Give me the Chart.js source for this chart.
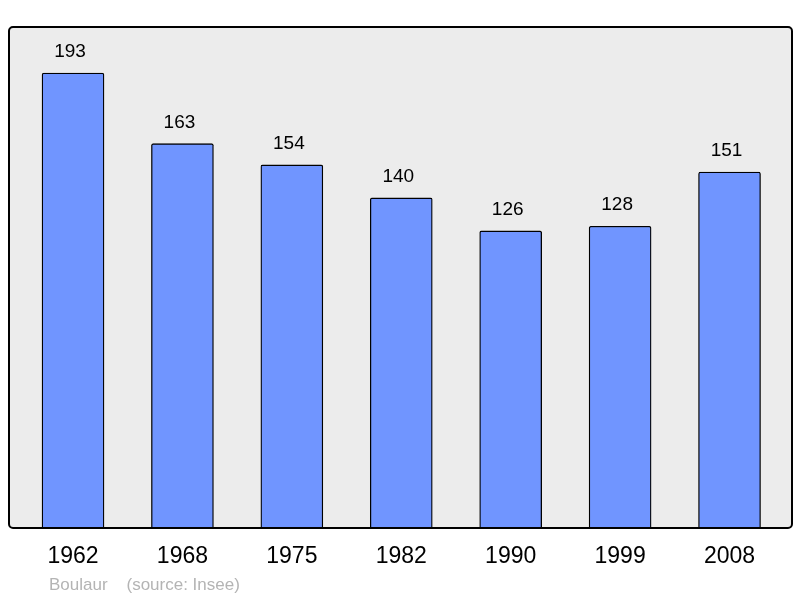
<!DOCTYPE html>
<html lang="en">
<head>
  <meta charset="UTF-8">
  <title>Boulaur population</title>
  <script src="https://cdn.jsdelivr.net/npm/chart.js"></script>
  <style>
    html, body { margin: 0; padding: 0; background: #fff; }
    #wrap { width: 800px; height: 598px; }
  </style>
</head>
<body>
  <div id="wrap"><canvas id="popChart" width="800" height="598"></canvas></div>

  <script>
    // data
    const years = ['1962', '1968', '1975', '1982', '1990', '1999', '2008'];
    const population = [193, 163, 154, 140, 126, 128, 151];
    const sourceText = 'Boulaur    (source: Insee)';

    const font = '"Liberation Sans", Arial, sans-serif';

    // grey box with black frame behind the bars, value labels and year labels
    const framePlugin = {
      id: 'frame',
      beforeDatasetsDraw(chart) {
        const { ctx, chartArea: a } = chart;
        ctx.save();
        ctx.fillStyle = '#ececec';
        ctx.beginPath();
        ctx.roundRect(a.left, a.top, a.right - a.left, a.bottom - a.top, 4);
        ctx.fill();
        ctx.restore();
      },
      afterDatasetsDraw(chart) {
        const { ctx, chartArea: a } = chart;
        const x = chart.scales.x, y = chart.scales.y;
        ctx.save();
        ctx.strokeStyle = '#000';
        ctx.lineWidth = 2;
        ctx.beginPath();
        ctx.roundRect(a.left, a.top, a.right - a.left, a.bottom - a.top, 4);
        ctx.stroke();

        ctx.fillStyle = '#000';
        ctx.textAlign = 'center';
        ctx.textBaseline = 'middle';
        ctx.font = '19px ' + font;
        population.forEach((v, i) => {
          ctx.fillText(String(v), x.getPixelForValue(i) - 3, y.getPixelForValue(v) - 21);
        });

        ctx.font = '23px ' + font;
        years.forEach((yr, i) => {
          ctx.fillText(yr, x.getPixelForValue(i), 557);
        });

        ctx.fillStyle = '#b4b4b4';
        ctx.textAlign = 'left';
        ctx.font = '17px ' + font;
        ctx.fillText(sourceText, 49, 585);
        ctx.restore();
      }
    };

    new Chart(document.getElementById('popChart'), {
      type: 'bar',
      data: {
        labels: years,
        datasets: [{
          data: population.map((v, i) => ({ x: i, y: v })),
          backgroundColor: '#7095ff',
          borderColor: '#000',
          borderWidth: 1.3,
          borderRadius: { topLeft: 2, topRight: 2 },
          borderSkipped: 'bottom',
          barThickness: 62
        }]
      },
      options: {
        responsive: false,
        animation: false,
        layout: { padding: { left: 9, right: 8, top: 27, bottom: 70 } },
        plugins: { legend: { display: false }, tooltip: { enabled: false } },
        scales: {
          x: { type: 'linear', min: -0.585, max: 6.571, offset: false, display: false },
          y: { min: 0, max: 212.5, display: false }
        }
      },
      plugins: [framePlugin]
    });
  </script>
</body>
</html>
